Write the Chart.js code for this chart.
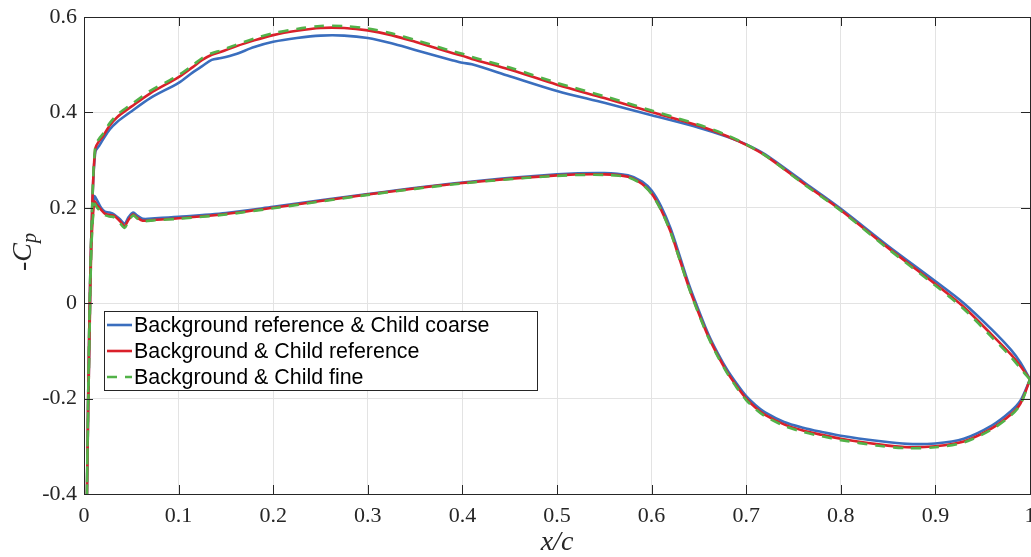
<!DOCTYPE html>
<html>
<head>
<meta charset="utf-8">
<title>-Cp distribution</title>
<script src="https://cdn.jsdelivr.net/npm/chart.js@4.4.1/dist/chart.umd.min.js"></script>
<style>
  html, body { margin: 0; padding: 0; background: #fff; }
  #wrap { width: 1031px; height: 557px; }
</style>
</head>
<body>
<div id="wrap"><canvas id="cpChart" width="1031" height="557"></canvas></div>
<script>
// suction side stations, leading edge -> trailing edge
const xUpper = [0.001, 0.003, 0.006, 0.009, 0.012, 0.016, 0.02, 0.027, 0.035, 0.05,
  0.07, 0.1, 0.115, 0.125, 0.135, 0.145, 0.16, 0.18, 0.2, 0.225,
  0.25, 0.275, 0.3, 0.325, 0.35, 0.39, 0.4, 0.41, 0.45, 0.5,
  0.55, 0.6, 0.65, 0.68, 0.7, 0.72, 0.76, 0.8, 0.85, 0.9,
  0.93, 0.96, 0.98, 0.99, 1.0];

const cpUpperCoarse = [-1.0, -0.42, 0.0, 0.22, 0.318, 0.33, 0.343, 0.364, 0.38, 0.402,
  0.43, 0.462, 0.484, 0.497, 0.51, 0.514, 0.522, 0.537, 0.548, 0.556,
  0.561, 0.561, 0.556, 0.545, 0.531, 0.509, 0.504, 0.501, 0.476, 0.445,
  0.42, 0.394, 0.368, 0.349, 0.333, 0.312, 0.255, 0.198, 0.12, 0.046,
  0.0, -0.056, -0.098, -0.125, -0.16];

const cpUpperRef = [-1.0, -0.42, 0.0, 0.22, 0.325, 0.34, 0.35, 0.372, 0.39, 0.412,
  0.44, 0.474, 0.495, 0.51, 0.521, 0.527, 0.538, 0.551, 0.562, 0.571,
  0.577, 0.577, 0.572, 0.562, 0.548, 0.524, 0.519, 0.512, 0.49, 0.458,
  0.43, 0.401, 0.372, 0.35, 0.332, 0.31, 0.252, 0.195, 0.116, 0.04,
  -0.008, -0.067, -0.108, -0.132, -0.16];

const cpUpperFine = [-1.0, -0.42, 0.0, 0.225, 0.33, 0.345, 0.355, 0.377, 0.395, 0.417,
  0.445, 0.478, 0.499, 0.514, 0.524, 0.53, 0.541, 0.555, 0.566, 0.575,
  0.581, 0.581, 0.576, 0.566, 0.552, 0.528, 0.523, 0.516, 0.494, 0.462,
  0.434, 0.404, 0.374, 0.352, 0.333, 0.31, 0.251, 0.194, 0.114, 0.037,
  -0.012, -0.072, -0.113, -0.137, -0.16];

// pressure side stations, leading edge -> trailing edge
const xLower = [0.001, 0.003, 0.006, 0.008, 0.011, 0.014, 0.018, 0.022, 0.027, 0.032,
  0.038, 0.043, 0.047, 0.052, 0.056, 0.062, 0.075, 0.1, 0.15, 0.2,
  0.3, 0.4, 0.5, 0.55, 0.575, 0.59, 0.6, 0.61, 0.62, 0.63,
  0.64, 0.65, 0.66, 0.67, 0.68, 0.69, 0.7, 0.71, 0.72, 0.74,
  0.76, 0.78, 0.8, 0.84, 0.87, 0.9, 0.93, 0.96, 0.98, 0.99, 1.0];

const cpLowerCoarse = [-1.0, -0.42, -0.04, 0.15, 0.224, 0.215, 0.2, 0.192, 0.19, 0.186,
  0.176, 0.167, 0.18, 0.19, 0.184, 0.177, 0.178, 0.181, 0.189, 0.202,
  0.229, 0.253, 0.27, 0.273, 0.268, 0.255, 0.236, 0.203, 0.157, 0.097,
  0.036, -0.016, -0.065, -0.105, -0.14, -0.169, -0.195, -0.214, -0.229, -0.249,
  -0.261, -0.27, -0.278, -0.289, -0.295, -0.294, -0.284, -0.256, -0.226, -0.204, -0.16];

const cpLowerRef = [-1.0, -0.42, -0.05, 0.13, 0.213, 0.205, 0.196, 0.188, 0.185, 0.183,
  0.172, 0.162, 0.175, 0.186, 0.18, 0.173, 0.175, 0.178, 0.187, 0.2,
  0.228, 0.252, 0.268, 0.27, 0.265, 0.25, 0.23, 0.196, 0.15, 0.09,
  0.03, -0.022, -0.07, -0.11, -0.145, -0.174, -0.2, -0.219, -0.234, -0.254,
  -0.267, -0.276, -0.284, -0.296, -0.302, -0.3, -0.29, -0.262, -0.233, -0.21, -0.16];

const cpLowerFine = [-1.0, -0.42, -0.05, 0.125, 0.208, 0.2, 0.192, 0.185, 0.182, 0.18,
  0.168, 0.158, 0.172, 0.184, 0.178, 0.172, 0.174, 0.177, 0.186, 0.199,
  0.227, 0.251, 0.267, 0.269, 0.264, 0.249, 0.229, 0.195, 0.149, 0.089,
  0.029, -0.024, -0.072, -0.112, -0.147, -0.177, -0.203, -0.222, -0.237, -0.257,
  -0.27, -0.279, -0.287, -0.299, -0.304, -0.302, -0.292, -0.264, -0.235, -0.212, -0.16];

const xTicks = [0, 0.1, 0.2, 0.3, 0.4, 0.5, 0.6, 0.7, 0.8, 0.9, 1];
const yTicks = [-0.4, -0.2, 0, 0.2, 0.4, 0.6];

// closed loop: trailing edge -> suction side -> leading edge -> pressure side -> trailing edge
const loop = (cpU, cpL) => {
  const pts = [];
  for (let i = xUpper.length - 1; i >= 0; i--) pts.push({ x: xUpper[i], y: cpU[i] });
  for (let i = 0; i < xLower.length; i++) pts.push({ x: xLower[i], y: cpL[i] });
  return pts;
};

const tickText = v => (Math.abs(v) < 1e-9 ? '0' : Math.abs(v - 1) < 1e-9 ? '1' : v.toFixed(1));

// box, inward ticks, y label and legend, MATLAB style
const axesDecor = {
  id: 'axesDecor',
  afterDraw(chart) {
    const { ctx, chartArea: a, scales } = chart;
    const tl = 9;
    ctx.save();
    ctx.strokeStyle = '#262626';
    ctx.lineWidth = 1;
    ctx.beginPath();
    xTicks.forEach(v => {
      const px = Math.round(scales.x.getPixelForValue(v)) + 0.5;
      ctx.moveTo(px, a.bottom); ctx.lineTo(px, a.bottom - tl);
      ctx.moveTo(px, a.top); ctx.lineTo(px, a.top + tl);
    });
    yTicks.forEach(v => {
      const py = Math.round(scales.y.getPixelForValue(v)) + 0.5;
      ctx.moveTo(a.left, py); ctx.lineTo(a.left + tl, py);
      ctx.moveTo(a.right, py); ctx.lineTo(a.right - tl, py);
    });
    ctx.stroke();
    ctx.strokeRect(Math.round(a.left) + 0.5, Math.round(a.top) + 0.5,
      Math.round(a.right - a.left), Math.round(a.bottom - a.top));

    // y label: -C_p, rotated
    ctx.fillStyle = '#262626';
    ctx.translate(31, 252);
    ctx.rotate(-Math.PI / 2);
    ctx.textBaseline = 'alphabetic';
    const big = '28px "Liberation Serif"';
    const bigIt = 'italic 28px "Liberation Serif"';
    const sub = 'italic 20px "Liberation Serif"';
    ctx.font = big; const wm = ctx.measureText('-').width;
    ctx.font = bigIt; const wc = ctx.measureText('C').width;
    ctx.font = sub; const wp = ctx.measureText('p').width;
    let cx = -(wm + wc + wp) / 2;
    ctx.font = big; ctx.fillText('-', cx, 0); cx += wm;
    ctx.font = bigIt; ctx.fillText('C', cx, 0); cx += wc;
    ctx.font = sub; ctx.fillText('p', cx, 5);
    ctx.restore();

    // legend
    const lx = 104.5, ly = 311.5, lw = 433, lh = 79;
    ctx.save();
    ctx.fillStyle = '#fff';
    ctx.fillRect(lx, ly, lw, lh);
    ctx.strokeStyle = '#262626';
    ctx.lineWidth = 1;
    ctx.strokeRect(lx, ly, lw, lh);
    ctx.font = '21.4px "Liberation Sans"';
    ctx.textBaseline = 'middle';
    chart.data.datasets.forEach((ds, i) => {
      const ry = 325 + i * 26;
      ctx.strokeStyle = ds.borderColor;
      ctx.lineWidth = ds.borderWidth;
      ctx.setLineDash(ds.borderDash || []);
      ctx.beginPath();
      ctx.moveTo(107, ry); ctx.lineTo(132, ry);
      ctx.stroke();
      ctx.setLineDash([]);
      ctx.fillStyle = '#000';
      ctx.fillText(ds.label, 134, ry + 1);
    });
    ctx.restore();
  }
};

const line = (label, data, color, order, dash) => ({
  label, data, order,
  borderColor: color,
  borderWidth: 2.6,
  borderDash: dash,
  pointRadius: 0,
  showLine: true,
  fill: false,
  tension: 0.3
});

Chart.defaults.font.family = '"Liberation Serif", serif';
Chart.defaults.color = '#262626';

new Chart(document.getElementById('cpChart'), {
  type: 'scatter',
  data: {
    datasets: [
      line('Background reference & Child coarse', loop(cpUpperCoarse, cpLowerCoarse), 'rgb(58,110,190)', 2),
      line('Background & Child reference', loop(cpUpperRef, cpLowerRef), 'rgb(218,32,42)', 1),
      line('Background & Child fine', loop(cpUpperFine, cpLowerFine), 'rgb(82,178,72)', 0, [10, 8])
    ]
  },
  options: {
    responsive: false,
    animation: false,
    layout: { padding: { top: 17, right: 1, left: 0, bottom: 0 } },
    plugins: { legend: { display: false }, tooltip: { enabled: false } },
    scales: {
      x: {
        type: 'linear',
        min: 0, max: 1,
        afterBuildTicks: s => { s.ticks = xTicks.map(v => ({ value: v })); },
        afterFit: s => { s.height = 63; s.paddingLeft = 0; s.paddingRight = 0; },
        grid: { color: '#e3e3e3', lineWidth: 1, drawTicks: false },
        border: { display: false },
        ticks: { font: { size: 22 }, padding: 9, maxRotation: 0, autoSkip: false, callback: tickText },
        title: {
          display: true, text: 'x/c',
          font: { size: 28, style: 'italic', lineHeight: 1 },
          padding: { top: 0, bottom: 0 }
        }
      },
      y: {
        type: 'linear',
        min: -0.4, max: 0.6,
        afterBuildTicks: s => { s.ticks = yTicks.map(v => ({ value: v })); },
        afterFit: s => { s.width = 84; s.paddingTop = 0; s.paddingBottom = 0; },
        grid: { color: '#e3e3e3', lineWidth: 1, drawTicks: false },
        border: { display: false },
        ticks: { font: { size: 22 }, padding: 7, autoSkip: false, callback: tickText }
      }
    }
  },
  plugins: [axesDecor]
});
</script>
</body>
</html>
